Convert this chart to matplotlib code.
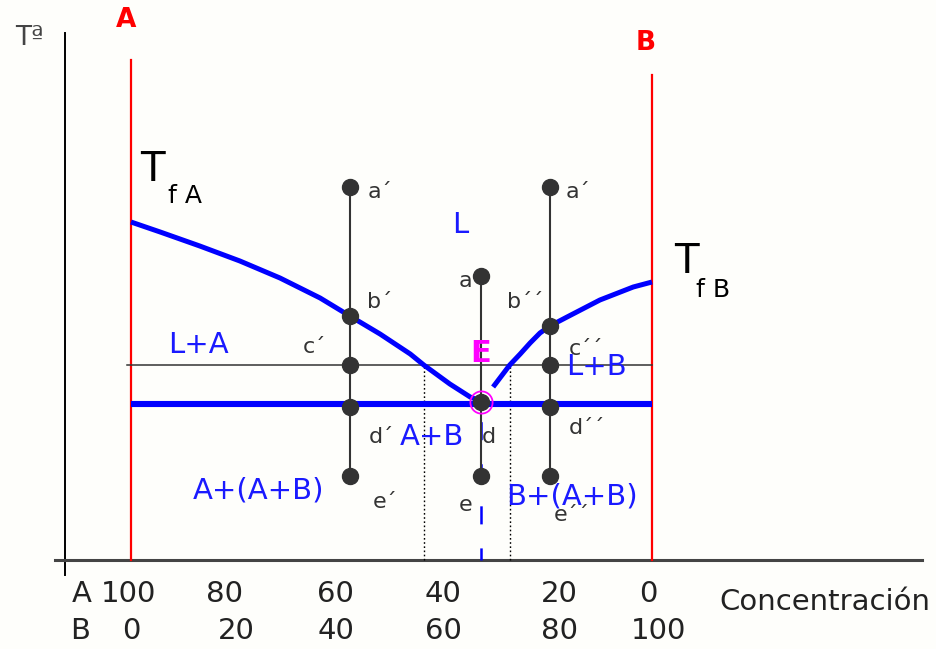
import numpy as np
import matplotlib
matplotlib.use("Agg")
import matplotlib.pyplot as plt

plt.rcParams['font.family'] = ['DejaVu Sans']
plt.rcParams['lines.scale_dashes'] = False

# --- data: concentration of B (%) vs temperature (arbitrary units) ---
liq_A_x = [0, 5.6, 13.2, 20.9, 28.6, 36.3, 42.0, 47.8, 53.6, 56.2, 61.2, 65.1, 66.6]
liq_A_T = [338, 328, 314, 299, 282, 262, 244, 226, 206, 195, 176, 163, 160]
liq_B_x = [69.5, 72.7, 74.7, 76.6, 78.5, 80.4, 83.7, 90.0, 96.4, 100]
liq_B_T = [173, 195, 206, 217, 227, 234, 243, 260, 273, 278]

T_eut = 156          # eutectic temperature
x_eut = 67.2         # eutectic composition (% B)
T_tie = 195          # isotherm crossing the liquidus
x_dotted = [56.2, 72.7]

# cooling paths: composition and the marked temperatures
path_left_x = 42.0
path_left_T = [373, 244, 195, 153, 84]
path_mid_x = x_eut
path_mid_T = [284, 158, 84]
path_right_x = 80.4
path_right_T = [373, 234, 195, 153, 84]

ticks_B = [0, 20, 40, 60, 80, 100]
labels_A = ['100', '80', '60', '40', '20', '0']
labels_B = ['0', '20', '40', '60', '80', '100']

# --- figure ---
bg = '#fefefb'
fig = plt.figure(figsize=(9.37, 6.49), dpi=100, facecolor=bg)
ax = fig.add_axes([0, 0, 1, 1])
ax.set_facecolor(bg)
ax.set_xlim((0 - 131) / 5.21, (937 - 131) / 5.21)
ax.set_ylim(560 - 649, 560)
ax.axis('off')

dark = '#333333'
blue = '#0000ff'
tblue = '#1a1aff'

# axes of the diagram
ax.plot([-12.67, -12.67], [-15, 527], color='black', lw=1.4)
ax.plot([-14.6, 151.8], [0, 0], color='#444444', lw=2.2)

# pure component lines
ax.plot([0, 0], [0, 500], color='red', lw=1.6)
ax.plot([100, 100], [0, 485], color='red', lw=1.6)

# isotherm and dotted guides
ax.plot([-0.8, 100], [T_tie, T_tie], color=dark, lw=1.1)
for xd in x_dotted:
    ax.plot([xd, xd], [0, T_tie], color='black', lw=1.0, ls=(0, (1.2, 1.8)))

# eutectic dashed guide (behind)
ax.plot([x_eut, x_eut], [0, T_eut], color=blue, lw=1.8, ls=(4.3, (13, 17.3)))

# liquidus curves and eutectic line
ax.plot(liq_A_x, liq_A_T, color=blue, lw=3.6, solid_capstyle='butt',
        solid_joinstyle='round')
ax.plot(liq_B_x, liq_B_T, color=blue, lw=3.6, solid_capstyle='butt',
        solid_joinstyle='round')
ax.plot([0, 100], [T_eut, T_eut], color=blue, lw=4.4, solid_capstyle='butt')

# cooling paths
for px, pT in [(path_left_x, path_left_T), (path_mid_x, path_mid_T),
               (path_right_x, path_right_T)]:
    ax.plot([px, px], [max(pT), min(pT)], color=dark, lw=1.5)
    ax.plot([px] * len(pT), pT, 'o', color=dark, ms=11.5, mec=dark)

# eutectic point ring
ax.plot([x_eut], [158], 'o', mfc='none', mec='#ff00ff', ms=16, mew=1.3,
        ls='none')

# --- texts ---
ax.text(-19.6, 522, 'T\u00aa', fontsize=19, color='#444444', ha='center', va='center')
ax.text(-0.96, 540, 'A', fontsize=19, color='red', fontweight='bold', ha='center', va='center')
ax.text(98.8, 517, 'B', fontsize=19, color='red', fontweight='bold', ha='center', va='center')
ax.text(4.2, 390, 'T', fontsize=29, color='black', ha='center', va='center')
ax.text(10.4, 364, 'f A', fontsize=18, color='black', ha='center', va='center')
ax.text(106.7, 298, 'T', fontsize=29, color='black', ha='center', va='center')
ax.text(111.8, 270, 'f B', fontsize=18, color='black', ha='center', va='center')

phase_kw = dict(fontsize=21, color=tblue, ha='center', va='center')
ax.text(63.1, 335, 'L', **phase_kw)
ax.text(12.9, 215, 'L+A', **phase_kw)
ax.text(89.3, 193, 'L+B', **phase_kw)
ax.text(57.8, 123, 'A+B', **phase_kw)
ax.text(24.4, 70, 'A+(A+B)', **phase_kw)
ax.text(84.6, 63, 'B+(A+B)', **phase_kw)
ax.text(67.2, 207, 'E', fontsize=22, color='#ff00ff', fontweight='bold',
        ha='center', va='center')

pt_kw = dict(fontsize=16, color=dark, ha='center', va='center')
for (tx, ty, s) in [(47.8, 368, 'a\u00b4'), (47.8, 258, 'b\u00b4'),
                    (35.3, 213, 'c\u00b4'), (48.0, 123, 'd\u00b4'),
                    (48.8, 58, 'e\u00b4'), (64.1, 279, 'a'),
                    (68.6, 123, 'd'), (64.3, 55, 'e'),
                    (85.8, 368, 'a\u00b4'), (75.6, 258, 'b\u00b4\u00b4'),
                    (87.3, 211, 'c\u00b4\u00b4'), (87.5, 132, 'd\u00b4\u00b4'),
                    (84.6, 45, 'e\u00b4\u00b4')]:
    ax.text(tx, ty, s, **pt_kw)

# concentration labels
tick_kw = dict(fontsize=21, color='#222222', ha='center', va='center')
row1_dx = [-0.4, -2.0, -0.7, -0.1, 2.3, -0.8]
row2_dx = [0.0, 0.2, -0.7, -0.1, 2.3, 1.2]
ax.text(-9.4, -34, 'A', **tick_kw)
ax.text(-9.8, -71, 'B', **tick_kw)
for xb, la, lb, d1, d2 in zip(ticks_B, labels_A, labels_B, row1_dx, row2_dx):
    ax.text(xb + d1, -34, la, **tick_kw)
    ax.text(xb + d2, -71, lb, **tick_kw)
ax.text(133.2, -42, 'Concentración', fontsize=21, color='#222222',
        ha='center', va='center')

fig.savefig('out.png', dpi=100, facecolor=bg)
